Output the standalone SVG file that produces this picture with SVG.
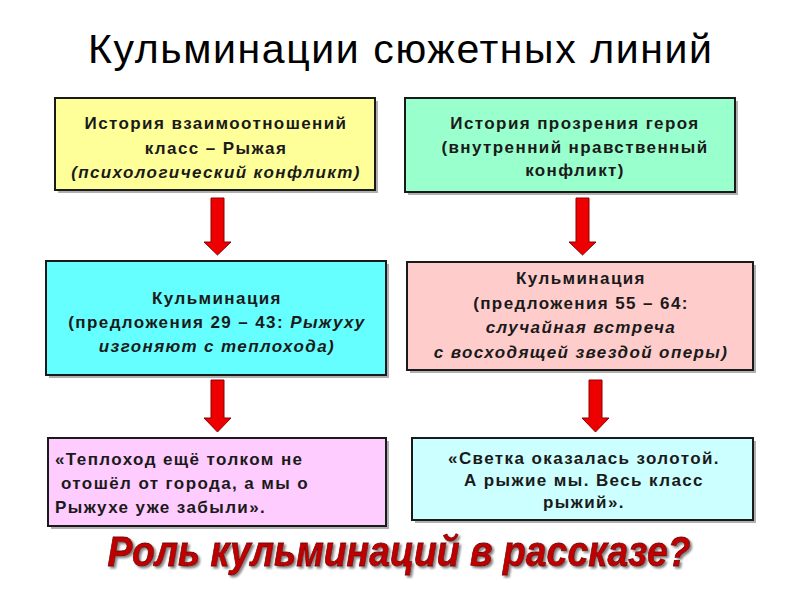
<svg xmlns="http://www.w3.org/2000/svg" width="800" height="600" viewBox="0 0 800 600">
<defs>
<filter id="shadow" x="-5%" y="-20%" width="110%" height="140%">
<feDropShadow dx="2" dy="2" stdDeviation="0.8" flood-color="#666666" flood-opacity="0.8"/>
</filter>
</defs>
<style>
.box{stroke:#1a1a1a;stroke-width:2}
.sh{fill:#b0b0b0}
.t{font-family:"Liberation Sans",Arial,sans-serif;font-size:17px;font-weight:bold;fill:#1a1a1a;letter-spacing:1.4px}
.c{text-anchor:middle}
.i{font-style:italic}
.arrow{fill:#ee0000;stroke:#8b0000;stroke-width:1}
</style>
<rect width="800" height="600" fill="#ffffff"/>
<text x="400" y="63" text-anchor="middle" font-family="Liberation Sans, Arial, sans-serif" font-size="41" fill="#000" textLength="624" lengthAdjust="spacing">Кульминации сюжетных линий</text>

<g id="connectors">
<polygon class="arrow" points="211,198 224,198 224,242 231,242 217.5,255 204,242 211,242"/>
<polygon class="arrow" points="576,198 589,198 589,242 596,242 582.5,255 569,242 576,242"/>
<polygon class="arrow" points="211,380 224,380 224,418 231,418 217.5,432 204,418 211,418"/>
<polygon class="arrow" points="589,380 602,380 602,418 609,418 595.5,432 582,418 589,418"/>
</g>

<g id="box1">
<rect class="sh" x="58" y="101" width="320" height="92"/>
<rect class="box" x="55" y="98" width="320" height="92" fill="#ffff99"/>
<text class="t c" x="216" y="129">История взаимоотношений</text>
<text class="t c" x="216" y="154">класс – Рыжая</text>
<text class="t c i" x="216" y="178">(психологический конфликт)</text>
</g>

<g id="box2">
<rect class="sh" x="408" y="101" width="330" height="94"/>
<rect class="box" x="405" y="98" width="330" height="94" fill="#99ffcc"/>
<text class="t c" x="575" y="129">История прозрения героя</text>
<text class="t c" x="575" y="153">(внутренний нравственный</text>
<text class="t c" x="575" y="176">конфликт)</text>
</g>

<g id="box3">
<rect class="sh" x="49" y="264" width="340" height="114"/>
<rect class="box" x="46" y="261" width="340" height="114" fill="#66ffff"/>
<text class="t c" x="217" y="304">Кульминация</text>
<text class="t c" x="217" y="328">(предложения 29 – 43: <tspan class="i">Рыжуху</tspan></text>
<text class="t c i" x="217" y="352">изгоняют с теплохода)</text>
</g>

<g id="box4">
<rect class="sh" x="410" y="265" width="346" height="108"/>
<rect class="box" x="407" y="262" width="346" height="108" fill="#ffcccc"/>
<text class="t c" x="581" y="284">Кульминация</text>
<text class="t c" x="581" y="309">(предложения 55 – 64:</text>
<text class="t c i" x="581" y="333">случайная встреча</text>
<text class="t c i" x="581" y="358">с восходящей звездой оперы)</text>
</g>

<g id="box5">
<rect class="sh" x="51" y="441" width="338" height="88"/>
<rect class="box" x="48" y="438" width="338" height="88" fill="#ffccff"/>
<text class="t" x="55" y="465">«Теплоход ещё толком не</text>
<text class="t" x="61" y="489">отошёл от города, а мы о</text>
<text class="t" x="55" y="513">Рыжухе уже забыли».</text>
</g>

<g id="box6">
<rect class="sh" x="415" y="441" width="341" height="82"/>
<rect class="box" x="412" y="438" width="341" height="82" fill="#ccffff"/>
<text class="t c" x="584" y="464">«Светка оказалась золотой.</text>
<text class="t c" x="584" y="486">А рыжие мы. Весь класс</text>
<text class="t c" x="584" y="508">рыжий».</text>
</g>

<g id="question">
<text x="399" y="566" text-anchor="middle" font-family="Liberation Sans, Arial, sans-serif" font-size="43" font-weight="bold" font-style="italic" fill="#c00000" stroke="#7a0000" stroke-width="0.8" textLength="583" lengthAdjust="spacingAndGlyphs" filter="url(#shadow)">Роль кульминаций в рассказе?</text>
</g>
</svg>
